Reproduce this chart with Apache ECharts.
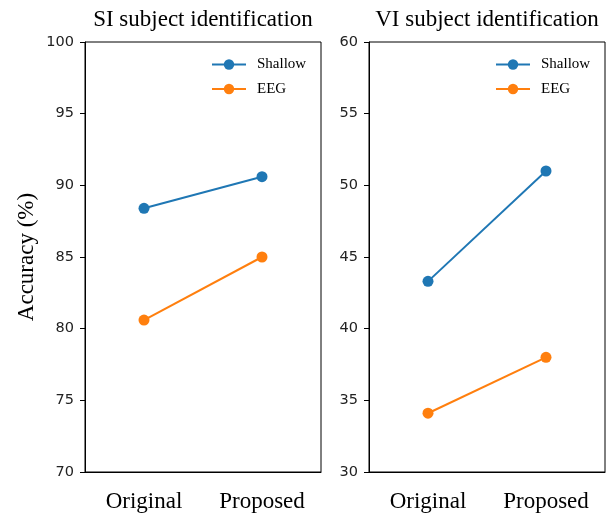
<!DOCTYPE html>
<html><head><meta charset="utf-8">
<script src="https://cdn.jsdelivr.net/npm/echarts@6/dist/echarts.min.js"></script>
<style>html,body{margin:0;padding:0;background:#fff}#c{width:611px;height:514px}</style>
</head><body><div id="c"></div>
<script>
const categories = ['Original', 'Proposed'];
const siShallow = [88.4, 90.6];
const siEEG = [80.6, 85.0];
const viShallow = [43.3, 51.0];
const viEEG = [34.1, 38.0];
const titles = ['SI subject identification', 'VI subject identification'];
const FONT = 'Liberation Serif';
const SANS = 'DejaVu Sans';
const blue = '#1f77b4', orange = '#ff7f0e';

const chart = echarts.init(document.getElementById('c'), null, {renderer: 'canvas'});
function xAx(i) {
  return {
    type: 'category', gridIndex: i, data: categories, boundaryGap: true,
    axisLine: {lineStyle: {color: '#000', width: 1}},
    axisTick: {alignWithLabel: true, length: 5, lineStyle: {color: '#000'}},
    axisLabel: {color: '#000', fontFamily: FONT, fontSize: 23, margin: 18},
    splitLine: {show: false}
  };
}
function yAx(i, min, max, name) {
  return {
    type: 'value', gridIndex: i, min: min, max: max, interval: 5,
    name: name, nameLocation: 'middle', nameGap: 47,
    nameTextStyle: {color: '#000', fontFamily: FONT, fontSize: 23},
    axisLine: {show: true, lineStyle: {color: '#000', width: 1}},
    axisTick: {show: true, length: 5, lineStyle: {color: '#000'}},
    axisLabel: {color: '#222', fontFamily: SANS, fontSize: 14.5, margin: 11},
    splitLine: {show: false}
  };
}
function ser(name, data, color, i) {
  return {
    name: name, type: 'line', xAxisIndex: i, yAxisIndex: i, data: data,
    symbol: 'circle', symbolSize: 11,
    lineStyle: {color: color, width: 2}, itemStyle: {color: color},
    animation: false
  };
}
const legendCommon = {
  orient: 'vertical', padding: 0,
  itemWidth: 34, itemHeight: 13, itemGap: 9.5, itemTextGap: 12,
  itemStyle: {borderWidth: 0},
  lineStyle: {width: 2},
  textStyle: {color: '#000', fontFamily: FONT, fontSize: 15, padding: [0, 0, 0, 6]}
};
chart.setOption({
  animation: false,
  title: [
    {text: titles[0], left: 198, top: 3, textAlign: 'center', textStyle: {fontFamily: FONT, fontSize: 23, fontWeight: 'normal', color: '#000'}},
    {text: titles[1], left: 482, top: 3, textAlign: 'center', textStyle: {fontFamily: FONT, fontSize: 23, fontWeight: 'normal', color: '#000'}}
  ],
  grid: [
    {left: 85, top: 42, width: 236, height: 430, show: true, borderColor: '#000', borderWidth: 1},
    {left: 369, top: 42, width: 236, height: 430, show: true, borderColor: '#000', borderWidth: 1}
  ],
  legend: [
    Object.assign({}, legendCommon, {left: 211, top: 57, data: ['Shallow', 'EEG']}),
    Object.assign({}, legendCommon, {left: 495, top: 57, data: ['Shallow ', 'EEG ']})
  ],
  xAxis: [xAx(0), xAx(1)],
  yAxis: [yAx(0, 70, 100, 'Accuracy (%)'), yAx(1, 30, 60, '')],
  series: [
    ser('Shallow', siShallow, blue, 0),
    ser('EEG', siEEG, orange, 0),
    ser('Shallow ', viShallow, blue, 1),
    ser('EEG ', viEEG, orange, 1)
  ]
});
</script></body></html>
